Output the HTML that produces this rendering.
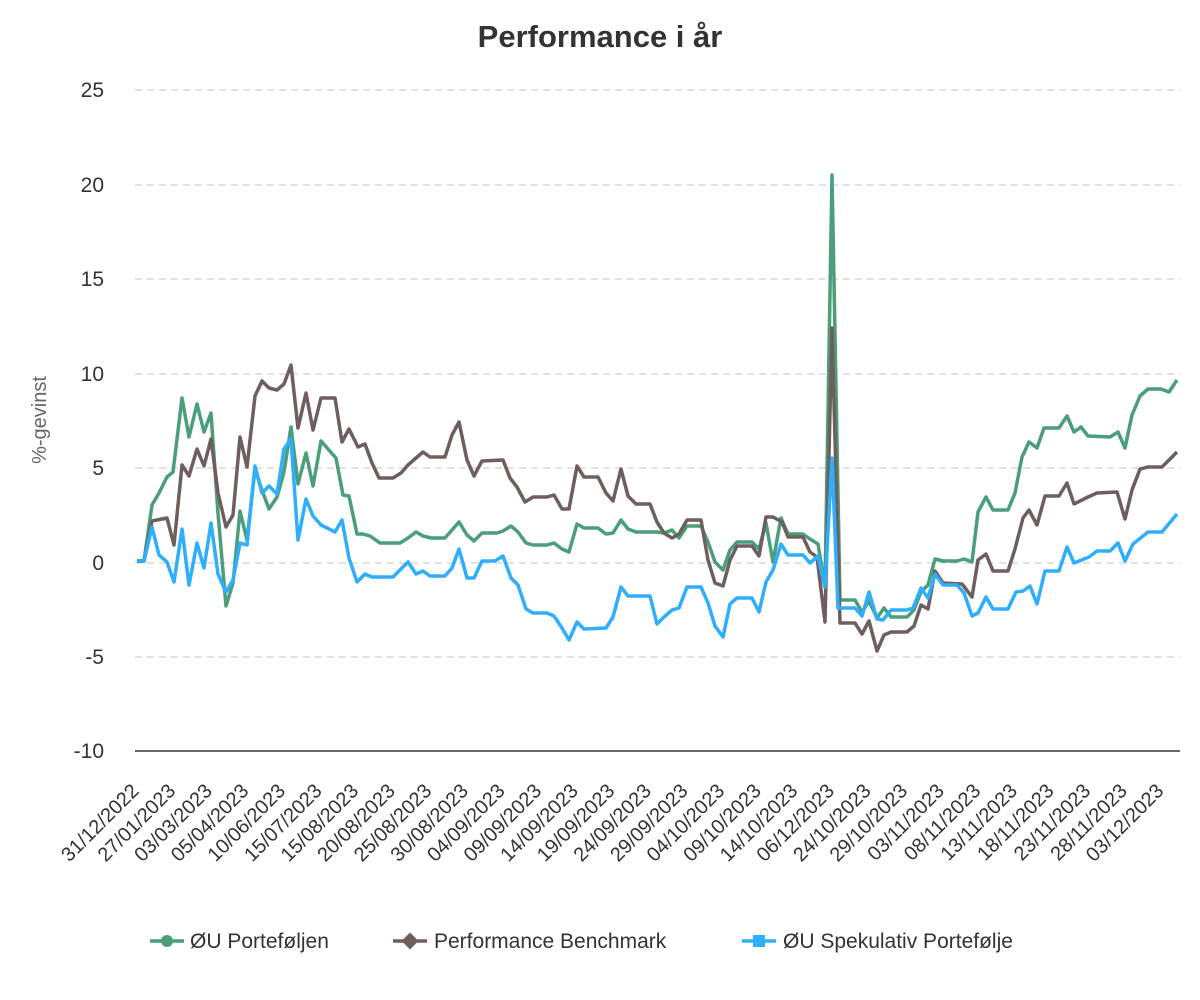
<!DOCTYPE html>
<html><head><meta charset="utf-8"><style>
body{margin:0;background:#fff;}
svg{display:block;font-family:"Liberation Sans",Arial,sans-serif;}
</style></head><body>
<svg width="1200" height="1000" viewBox="0 0 1200 1000">
<rect width="1200" height="1000" fill="#fff"/>
<text x="600" y="47" text-anchor="middle" font-size="31" font-weight="bold" fill="#333">Performance i år</text>
<g stroke="#d9d9d9" stroke-width="1.5" stroke-dasharray="7,5">
<line x1="135" x2="1180" y1="90" y2="90"/><line x1="135" x2="1180" y1="185" y2="185"/>
<line x1="135" x2="1180" y1="279" y2="279"/><line x1="135" x2="1180" y1="374" y2="374"/>
<line x1="135" x2="1180" y1="468" y2="468"/><line x1="135" x2="1180" y1="563" y2="563"/>
<line x1="135" x2="1180" y1="657" y2="657"/></g>
<line x1="135" x2="1180" y1="751" y2="751" stroke="#333" stroke-width="1.5"/>
<g font-size="21" fill="#333" text-anchor="end">
<text x="104" y="97">25</text><text x="104" y="192">20</text><text x="104" y="286">15</text>
<text x="104" y="381">10</text><text x="104" y="475">5</text><text x="104" y="570">0</text>
<text x="104" y="664">-5</text><text x="104" y="758">-10</text></g>
<text transform="translate(46,420) rotate(-90)" text-anchor="middle" font-size="20" fill="#666">%-gevinst</text>
<g font-size="20" fill="#333" text-anchor="end">
<text transform="translate(140.0,792) rotate(-45)">31/12/2022</text>
<text transform="translate(176.6,792) rotate(-45)">27/01/2023</text>
<text transform="translate(213.2,792) rotate(-45)">03/03/2023</text>
<text transform="translate(249.8,792) rotate(-45)">05/04/2023</text>
<text transform="translate(286.4,792) rotate(-45)">10/06/2023</text>
<text transform="translate(323.0,792) rotate(-45)">15/07/2023</text>
<text transform="translate(359.6,792) rotate(-45)">15/08/2023</text>
<text transform="translate(396.2,792) rotate(-45)">20/08/2023</text>
<text transform="translate(432.8,792) rotate(-45)">25/08/2023</text>
<text transform="translate(469.4,792) rotate(-45)">30/08/2023</text>
<text transform="translate(506.0,792) rotate(-45)">04/09/2023</text>
<text transform="translate(542.6,792) rotate(-45)">09/09/2023</text>
<text transform="translate(579.2,792) rotate(-45)">14/09/2023</text>
<text transform="translate(615.8,792) rotate(-45)">19/09/2023</text>
<text transform="translate(652.4,792) rotate(-45)">24/09/2023</text>
<text transform="translate(689.0,792) rotate(-45)">29/09/2023</text>
<text transform="translate(725.6,792) rotate(-45)">04/10/2023</text>
<text transform="translate(762.2,792) rotate(-45)">09/10/2023</text>
<text transform="translate(798.8,792) rotate(-45)">14/10/2023</text>
<text transform="translate(835.4,792) rotate(-45)">06/12/2023</text>
<text transform="translate(872.0,792) rotate(-45)">24/10/2023</text>
<text transform="translate(908.6,792) rotate(-45)">29/10/2023</text>
<text transform="translate(945.2,792) rotate(-45)">03/11/2023</text>
<text transform="translate(981.8,792) rotate(-45)">08/11/2023</text>
<text transform="translate(1018.4,792) rotate(-45)">13/11/2023</text>
<text transform="translate(1055.0,792) rotate(-45)">18/11/2023</text>
<text transform="translate(1091.6,792) rotate(-45)">23/11/2023</text>
<text transform="translate(1128.2,792) rotate(-45)">28/11/2023</text>
<text transform="translate(1164.8,792) rotate(-45)">03/12/2023</text>
</g>
<g fill="none" stroke-width="3.5" stroke-linejoin="round">
<polyline stroke="#4a9e7a" points="137,561 144,561 152,505 159,493 167,477 173,472 182,398 189,437 197,404 204,432 211,413 218,513 226,606 233,583 240,511 247,540 255,469 263,493 269,509 277,497 284,472 291,427 298,484 306,453 313,486 321,441 328,449 336,458 343,495 349,496 357,534 363,534 370,536 380,543 400,543 408,538 416,532 423,536 431,538 445,538 452,530 459,522 467,535 474,541 482,533 497,533 503,531 511,526 518,532 526,543 533,545 547,545 554,543 562,549 569,552 577,524 584,528 598,528 606,534 613,533 621,520 628,529 636,532 657,532 664,533 672,530 679,538 687,526 701,526 708,542 715,562 723,570 730,550 737,542 752,542 759,549 766,523 773,562 781,518 788,534 803,534 810,539 818,544 825,587 832,175 840,600 855,600 862,612 869,601 877,618 884,608 891,617 907,617 914,610 921,592 928,585 935,559 943,561 957,561 964,559 972,562 978,512 986,497 993,510 1008,510 1015,493 1022,457 1029,442 1037,448 1044,428 1059,428 1067,416 1074,432 1081,427 1088,436 1110,437 1118,432 1125,448 1132,415 1140,396 1148,389 1161,389 1169,392 1177,380"/>
<polyline stroke="#6e5f5e" points="137,561 144,561 152,521 167,518 174,545 182,465 189,476 197,449 204,466 211,439 218,493 226,527 233,515 240,437 247,467 255,396 262,381 269,388 277,390 284,384 291,365 298,428 306,393 313,430 321,398 335,398 342,442 349,429 358,447 365,444 372,463 379,478 393,478 401,473 408,465 416,458 423,452 430,457 445,457 452,435 459,422 467,460 474,476 482,461 503,460 510,478 517,487 525,502 533,497 547,497 554,495 562,509 569,509 577,466 584,477 598,477 606,493 613,501 621,469 628,496 636,504 650,504 657,522 664,533 672,538 679,534 687,520 701,520 708,560 715,583 723,586 730,560 737,546 752,546 759,556 766,517 773,517 782,522 788,537 803,537 810,552 817,557 825,622 832,328 840,623 855,623 862,634 869,621 877,651 884,635 891,632 907,632 914,626 921,605 928,609 935,571 943,583 962,584 972,597 978,560 986,554 993,571 1008,571 1015,549 1023,518 1029,510 1037,525 1045,496 1059,496 1067,483 1074,504 1088,497 1097,493 1117,492 1125,519 1132,490 1140,469 1148,467 1162,467 1177,452"/>
<polyline stroke="#2eaefc" points="137,561 144,561 152,527 159,555 167,562 174,582 182,529 189,585 197,543 204,568 211,523 218,574 226,592 233,580 240,543 247,545 255,466 262,493 269,486 277,494 284,449 291,439 298,540 306,499 313,516 321,525 335,532 342,520 349,558 357,582 365,574 372,577 393,577 401,569 408,562 416,574 423,571 430,576 445,576 452,568 459,549 467,578 474,578 482,561 495,561 503,556 511,578 518,585 526,609 533,613 547,613 554,616 562,628 569,640 577,622 584,629 606,628 613,617 621,587 628,596 650,596 657,624 664,617 672,610 679,608 687,587 701,587 708,603 715,626 723,637 730,604 737,598 752,598 759,612 766,582 773,570 781,544 788,555 803,555 810,563 818,556 825,587 832,458 838,608 855,608 862,616 869,592 877,619 883,620 891,610 907,610 913,608 921,588 928,598 935,574 943,585 957,585 964,593 972,616 978,613 986,597 993,609 1008,609 1016,592 1023,591 1030,586 1037,604 1045,571 1059,571 1067,547 1074,563 1089,557 1097,551 1110,551 1118,543 1125,561 1133,544 1148,532 1162,532 1177,514"/>
</g>
<g font-size="21" fill="#333">
<line x1="150" x2="184" y1="941" y2="941" stroke="#4a9e7a" stroke-width="3.5"/><circle cx="167" cy="941" r="6" fill="#4a9e7a"/>
<text x="190" y="948">ØU Porteføljen</text>
<line x1="393" x2="427" y1="941" y2="941" stroke="#6e5f5e" stroke-width="3.5"/><rect x="404" y="935" width="12" height="12" fill="#6e5f5e" transform="rotate(45 410 941)"/>
<text x="434" y="948">Performance Benchmark</text>
<line x1="742" x2="776" y1="941" y2="941" stroke="#2eaefc" stroke-width="3.5"/><rect x="753" y="935" width="12" height="12" fill="#2eaefc"/>
<text x="783" y="948">ØU Spekulativ Portefølje</text>
</g>
</svg>
</body></html>
